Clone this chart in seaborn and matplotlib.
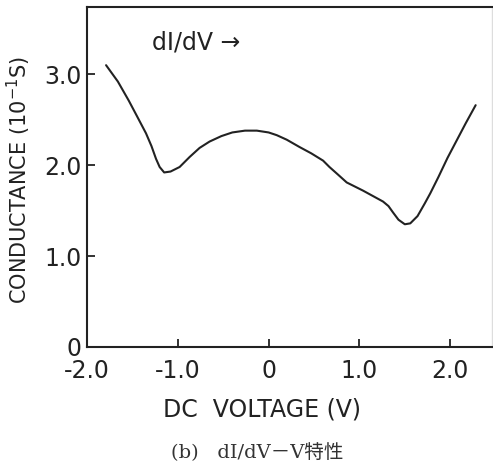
import matplotlib
matplotlib.use("Agg")
import matplotlib.pyplot as plt
import seaborn as sns

# bias voltage (V) and differential conductance (10^-1 S)
voltage = [-1.79, -1.66, -1.54, -1.45, -1.35, -1.29, -1.24, -1.20, -1.15, -1.08,
           -0.98, -0.87, -0.76, -0.65, -0.52, -0.40, -0.26, -0.13, 0.00, 0.09,
           0.20, 0.34, 0.47, 0.60, 0.67, 0.76, 0.86, 0.96, 1.04, 1.15,
           1.26, 1.32, 1.37, 1.43, 1.50, 1.56, 1.64, 1.72, 1.78, 1.87,
           1.97, 2.07, 2.17, 2.28]
conductance = [3.10, 2.92, 2.71, 2.54, 2.35, 2.21, 2.07, 1.98, 1.92, 1.93,
               1.98, 2.09, 2.19, 2.26, 2.32, 2.36, 2.38, 2.38, 2.36, 2.33,
               2.28, 2.20, 2.13, 2.05, 1.98, 1.90, 1.81, 1.76, 1.72, 1.66,
               1.60, 1.55, 1.48, 1.40, 1.35, 1.36, 1.44, 1.58, 1.69, 1.87,
               2.08, 2.27, 2.46, 2.66]
xticks = [-2.0, -1.0, 0.0, 1.0, 2.0]
xtick_labels = ["-2.0", "-1.0", "0", "1.0", "2.0"]
yticks = [0.0, 1.0, 2.0, 3.0]
ytick_labels = ["0", "1.0", "2.0", "3.0"]

sns.set_style("ticks")
plt.rcParams['font.family'] = ['DejaVu Sans']
ink = "#222222"

fig = plt.figure(figsize=(4.93, 4.66), dpi=100)
ax = fig.add_axes([87 / 493, 1 - 347 / 466, 405 / 493, 340 / 466])

sns.lineplot(x=voltage, y=conductance, ax=ax, color=ink, lw=1.5, sort=False)

ax.set_xlim(-2.0, 2.46)
ax.set_ylim(0, 3.74)
ax.set_xticks(xticks, xtick_labels)
ax.set_yticks(yticks, ytick_labels)
ax.tick_params(direction="in", length=6, width=1.3, labelsize=17, colors=ink)
ax.tick_params(axis="x", pad=9)
ax.tick_params(axis="y", pad=4)
for side in ["left", "bottom", "top"]:
    ax.spines[side].set_linewidth(1.5)
    ax.spines[side].set_color(ink)
ax.spines["right"].set_color("#dddddd")
ax.spines["right"].set_linewidth(1.0)

ax.set_ylabel("CONDUCTANCE (10$^{-1}$S)", fontsize=15, color=ink)
ax.yaxis.set_label_coords(-0.133, 0.49)
ax.set_xlabel("DC  VOLTAGE (V)", fontsize=17, color=ink)
ax.xaxis.set_label_coords(0.432, -0.15)

ax.text(-1.28, 3.35, "dI/dV →", fontsize=17, color=ink, va="center")

fig.text(0.521, 0.028, "(b)   dI/dV－V特性", fontsize=14, ha="center", va="center",
         color="#333333", family=['DejaVu Serif', 'Noto Sans CJK JP'])

fig.savefig("out.png", dpi=100)
